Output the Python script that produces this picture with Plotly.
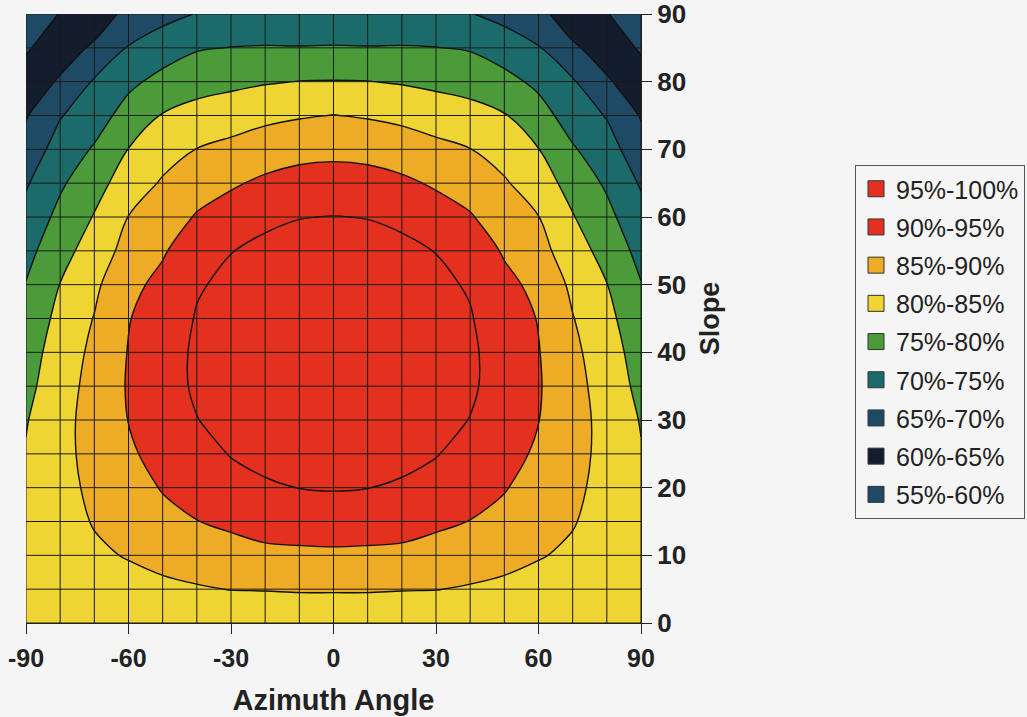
import plotly.graph_objects as go

# Azimuth angle (x) and slope (y) of the data grid
AZIMUTH = [-90, -80, -70, -60, -50, -40, -30, -20, -10, 0, 10, 20, 30, 40, 50, 60, 70, 80, 90]
SLOPE = [0, 5, 10, 15, 20, 25, 30, 35, 40, 45, 50, 55, 60, 65, 70, 75, 80, 85, 90]

# Relative irradiation (%); one row per slope, columns follow AZIMUTH
EFFICIENCY = [
    [81.5, 81.5, 81.5, 81.5, 81.5, 81.5, 81.5, 81.5, 81.5, 81.5, 81.5, 81.5, 81.5, 81.5, 81.5, 81.5, 81.5, 81.5, 81.5],
    [81.3, 82.0, 82.8, 83.3, 84.1, 84.6, 85.1, 85.2, 85.4, 85.4, 85.4, 85.2, 85.1, 84.6, 84.1, 83.3, 82.8, 82.0, 81.3],
    [81.1, 82.6, 84.2, 85.3, 86.3, 87.3, 88.1, 88.9, 89.1, 89.2, 89.1, 88.9, 88.1, 87.3, 86.3, 85.3, 84.2, 82.6, 81.1],
    [80.8, 83.1, 85.3, 86.8, 88.6, 89.9, 90.9, 91.9, 92.2, 92.4, 92.2, 91.9, 90.9, 89.9, 88.6, 86.8, 85.3, 83.1, 80.8],
    [80.5, 83.5, 86.0, 88.0, 90.3, 92.0, 93.9, 94.6, 95.05, 95.3, 95.05, 94.6, 93.9, 92.0, 90.3, 88.0, 86.0, 83.5, 80.5],
    [80.3, 83.7, 86.5, 89.2, 91.9, 93.9, 95.15, 95.9, 96.6, 96.8, 96.6, 95.9, 95.15, 93.9, 91.9, 89.2, 86.5, 83.7, 80.3],
    [79.7, 83.6, 86.7, 90.1, 92.8, 94.9, 96.3, 97.0, 97.5, 97.7, 97.5, 97.0, 96.3, 94.9, 92.8, 90.1, 86.7, 83.6, 79.7],
    [78.6, 83.1, 86.5, 90.4, 93.2, 95.6, 96.7, 97.4, 97.9, 98.1, 97.9, 97.4, 96.7, 95.6, 93.2, 90.4, 86.5, 83.1, 78.6],
    [77.6, 82.5, 86.0, 90.2, 93.0, 95.7, 96.8, 97.5, 98.0, 98.2, 98.0, 97.5, 96.8, 95.7, 93.0, 90.2, 86.0, 82.5, 77.6],
    [76.5, 81.4, 85.2, 89.8, 92.3, 95.3, 96.5, 97.2, 97.8, 98.0, 97.8, 97.2, 96.5, 95.3, 92.3, 89.8, 85.2, 81.4, 76.5],
    [75.2, 80.1, 84.0, 89.0, 91.0, 94.6, 95.9, 96.6, 97.1, 97.3, 97.1, 96.6, 95.9, 94.6, 91.0, 89.0, 84.0, 80.1, 75.2],
    [73.5, 78.2, 82.3, 86.7, 89.6, 92.4, 94.9, 95.9, 96.3, 96.5, 96.3, 95.9, 94.9, 92.4, 89.6, 86.7, 82.3, 78.2, 73.5],
    [71.6, 76.3, 80.3, 85.1, 87.4, 90.4, 92.2, 94.2, 94.9, 95.1, 94.9, 94.2, 92.2, 90.4, 87.4, 85.1, 80.3, 76.3, 71.6],
    [69.5, 74.3, 78.1, 82.5, 85.5, 87.8, 89.4, 90.9, 91.8, 92.1, 91.8, 90.9, 89.4, 87.8, 85.5, 82.5, 78.1, 74.3, 69.5],
    [67.1, 72.0, 75.5, 80.1, 83.1, 85.1, 86.3, 87.5, 88.5, 88.8, 88.5, 87.5, 86.3, 85.1, 83.1, 80.1, 75.5, 72.0, 67.1],
    [64.6, 69.7, 72.7, 77.0, 80.3, 81.7, 82.7, 83.9, 84.6, 85.1, 84.6, 83.9, 82.7, 81.7, 80.3, 77.0, 72.7, 69.7, 64.6],
    [62.0, 65.6, 70.5, 73.9, 76.5, 78.2, 78.9, 79.6, 80.1, 80.2, 80.1, 79.6, 78.9, 78.2, 76.5, 73.9, 70.5, 65.6, 62.0],
    [59.5, 62.5, 65.8, 70.3, 72.6, 74.6, 75.1, 75.3, 75.2, 75.3, 75.2, 75.3, 75.1, 74.6, 72.6, 70.3, 65.8, 62.5, 59.5],
    [57.2, 60.2, 62.0, 66.5, 68.5, 70.2, 70.8, 71.2, 71.4, 71.5, 71.4, 71.2, 70.8, 70.2, 68.5, 66.5, 62.0, 60.2, 57.2],
]

# Contour bands (low -> high) and legend entries (top -> bottom)
BAND_LOW = [55, 60, 65, 70, 75, 80, 85, 90, 95]
BAND_COLORS = ["#1f4a66", "#141d2e", "#1f4a66", "#1b6b6b", "#4b9b3b", "#eed534", "#eeab25", "#e4301f", "#e4301f"]
LEGEND_LABELS = ["95%-100%", "90%-95%", "85%-90%", "80%-85%", "75%-80%", "70%-75%", "65%-70%", "60%-65%", "55%-60%"]
X_TICKS = [-90, -60, -30, 0, 30, 60, 90]
Y_TICKS = [0, 10, 20, 30, 40, 50, 60, 70, 80, 90]

BG = "#f5f5f5"
FONT = "Liberation Sans"
INK = "#222222"

# plot area in pixels
L, R, T, B = 26, 641, 14, 623
W, H = 1027, 717

# stepped colour scale: one colour below the first level, then one per band
fill_colors = [BAND_COLORS[0]] + BAND_COLORS
n = len(fill_colors)
colorscale = []
for k, c in enumerate(fill_colors):
    lo = max(0.0, (k - 0.5) / (n - 1))
    hi = min(1.0, (k + 0.5) / (n - 1))
    colorscale.append([lo, c])
    colorscale.append([hi, c])

fig = go.Figure()
fig.add_trace(go.Contour(
    x=AZIMUTH, y=SLOPE, z=EFFICIENCY,
    contours=dict(start=BAND_LOW[0], end=BAND_LOW[-1], size=5, coloring="fill"),
    colorscale=colorscale, showscale=False,
    line=dict(color="#111111", width=1.4, smoothing=1.0),
    hoverinfo="skip", showlegend=False,
))

# data-grid lines drawn over the filled contours
gx, gy = [], []
for a in AZIMUTH:
    gx += [a, a, None]
    gy += [SLOPE[0], SLOPE[-1], None]
for s in SLOPE:
    gx += [AZIMUTH[0], AZIMUTH[-1], None]
    gy += [s, s, None]
fig.add_trace(go.Scatter(x=gx, y=gy, mode="lines", line=dict(color="#1a1a1a", width=1),
                         hoverinfo="skip", showlegend=False))

# legend entries
legend_colors = list(reversed(BAND_COLORS))
for i, (lab, col) in enumerate(zip(LEGEND_LABELS, legend_colors)):
    fig.add_trace(go.Scatter(
        x=[None], y=[None], mode="markers", name=lab, legendgroup=f"g{i}",
        marker=dict(symbol="square", size=17, color=col, line=dict(color="#333333", width=1)),
    ))

fig.update_layout(
    width=W, height=H,
    margin=dict(l=L, r=W - R, t=T, b=H - B, autoexpand=False),
    paper_bgcolor=BG, plot_bgcolor=BG,
    font=dict(family=FONT, color=INK),
    legend=dict(
        x=(855 - L) / (R - L), y=(B - 165) / (B - T), xanchor="left", yanchor="top",
        font=dict(family=FONT, size=25, color=INK),
        bgcolor=BG, bordercolor="#555555", borderwidth=1,
        tracegroupgap=2.7,
    ),
    xaxis=dict(
        range=[AZIMUTH[0], AZIMUTH[-1]], tickvals=X_TICKS, ticktext=[str(v) for v in X_TICKS],
        ticks="outside", ticklen=10, tickcolor=INK, automargin=False, ticklabelstandoff=3,
        ticklabeloverflow="allow",
        showgrid=False, zeroline=False, showline=True, linecolor=INK,
        tickfont=dict(family=FONT, size=25, weight="bold", color=INK),
        title=dict(text="Azimuth Angle", font=dict(family=FONT, size=29, weight="bold", color=INK), standoff=18),
    ),
    yaxis=dict(
        range=[SLOPE[0], SLOPE[-1]], tickvals=Y_TICKS, ticktext=[str(v) for v in Y_TICKS], side="right",
        ticks="outside", ticklen=10, tickcolor=INK, automargin=False, ticklabeloverflow="allow",
        showgrid=False, zeroline=False, showline=True, linecolor=INK,
        tickfont=dict(family=FONT, size=26, weight="bold", color=INK),
        title=dict(text="Slope", font=dict(family=FONT, size=27, weight="bold", color=INK), standoff=14),
    ),
)

fig.write_html("out.html", config={"displayModeBar": False},
               post_script="document.body.style.margin='0px';")
